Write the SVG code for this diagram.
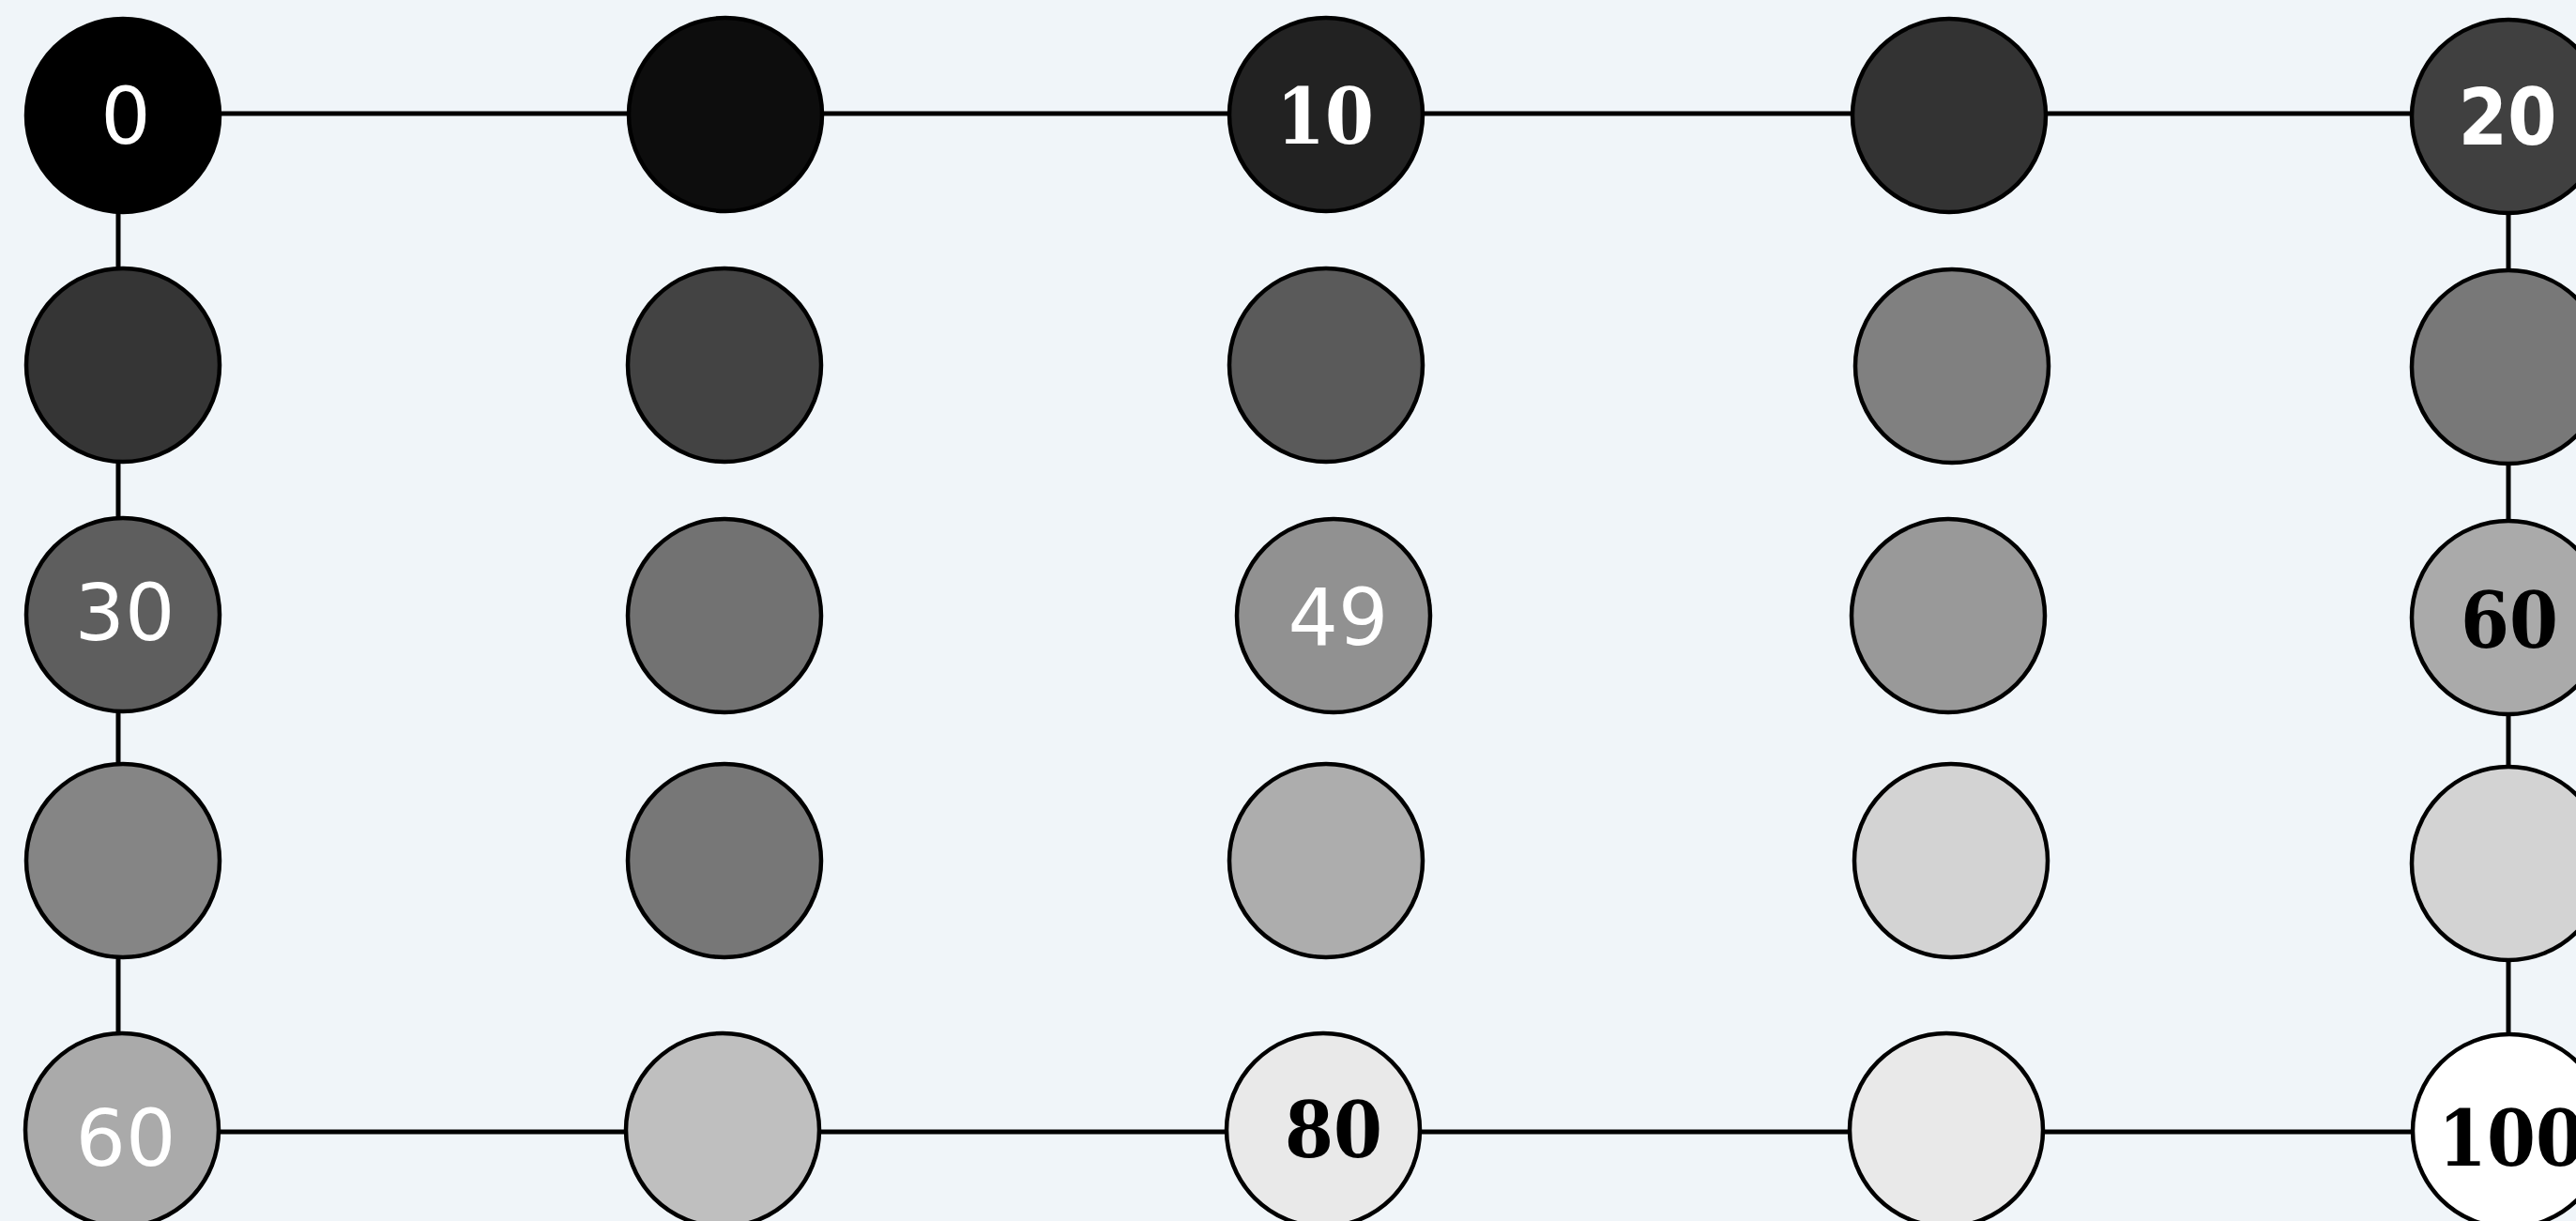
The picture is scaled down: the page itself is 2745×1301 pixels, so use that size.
<svg xmlns="http://www.w3.org/2000/svg" width="2745" height="1301" viewBox="0 0 2745 1301">
<style>
.n{stroke:#000;stroke-width:4.5}
.e{stroke:#000;stroke-width:5;fill:none}
.ls{font-family:"DejaVu Sans",sans-serif;font-size:84px;text-anchor:middle;fill:#fff}
.lb{font-family:"DejaVu Sans Condensed","DejaVu Sans",sans-serif;font-stretch:condensed;font-weight:bold;font-size:84px;text-anchor:middle;fill:#fff}
.lr{font-family:"DejaVu Serif Condensed","DejaVu Serif",serif;font-stretch:condensed;font-weight:bold;font-size:83px;text-anchor:middle;fill:#000}
.lw{fill:#fff}
</style>
<rect width="2745" height="1301" fill="#f0f5f9"/>
<g id="connectors">
<line class="e" x1="131" y1="121" x2="2673" y2="121"/>
<line class="e" x1="130" y1="1206" x2="2674" y2="1206"/>
<line class="e" x1="126" y1="123" x2="126" y2="1204"/>
<line class="e" x1="2673" y1="124" x2="2673" y2="1205"/>
</g>
<g id="n00"><circle class="n" cx="131" cy="123" r="103" fill="#000000"/><text class="ls" x="134" y="153">0</text></g>
<g id="n01"><circle class="n" cx="773" cy="122" r="103" fill="#0d0d0d"/></g>
<g id="n02"><circle class="n" cx="1413" cy="122" r="103" fill="#222222"/><text class="lr lw" x="1412" y="153">10</text></g>
<g id="n03"><circle class="n" cx="2077" cy="123" r="103" fill="#333333"/></g>
<g id="n04"><circle class="n" cx="2673" cy="124" r="103" fill="#404040"/><text class="lb" x="2672" y="154">20</text></g>
<g id="n10"><circle class="n" cx="131" cy="389" r="103" fill="#353535"/></g>
<g id="n11"><circle class="n" cx="772" cy="389" r="103" fill="#434343"/></g>
<g id="n12"><circle class="n" cx="1413" cy="389" r="103" fill="#5a5a5a"/></g>
<g id="n13"><circle class="n" cx="2080" cy="390" r="103" fill="#808080"/></g>
<g id="n14"><circle class="n" cx="2673" cy="391" r="103" fill="#787878"/></g>
<g id="n20"><circle class="n" cx="131" cy="655" r="103" fill="#5e5e5e"/><text class="ls" x="133" y="682">30</text></g>
<g id="n21"><circle class="n" cx="772" cy="656" r="103" fill="#727272"/></g>
<g id="n22"><circle class="n" cx="1421" cy="656" r="103" fill="#919191"/><text class="ls" x="1426" y="687">49</text></g>
<g id="n23"><circle class="n" cx="2076" cy="656" r="103" fill="#999999"/></g>
<g id="n24"><circle class="n" cx="2673" cy="658" r="103" fill="#aaaaaa"/><text class="lr" x="2674" y="690">60</text></g>
<g id="n30"><circle class="n" cx="131" cy="917" r="103" fill="#858585"/></g>
<g id="n31"><circle class="n" cx="772" cy="917" r="103" fill="#777777"/></g>
<g id="n32"><circle class="n" cx="1413" cy="917" r="103" fill="#adadad"/></g>
<g id="n33"><circle class="n" cx="2079" cy="917" r="103" fill="#d3d3d3"/></g>
<g id="n34"><circle class="n" cx="2673" cy="920" r="103" fill="#d3d3d3"/></g>
<g id="n40"><circle class="n" cx="130" cy="1204" r="103" fill="#aaaaaa"/><text class="ls" x="134" y="1242">60</text></g>
<g id="n41"><circle class="n" cx="770" cy="1204" r="103" fill="#bfbfbf"/></g>
<g id="n42"><circle class="n" cx="1410" cy="1204" r="103" fill="#e9e9e9"/><text class="lr" x="1421" y="1233">80</text></g>
<g id="n43"><circle class="n" cx="2074" cy="1204" r="103" fill="#e9e9e9"/></g>
<g id="n44"><circle class="n" cx="2674" cy="1205" r="103" fill="#ffffff"/><text class="lr" x="2676" y="1242">100</text></g>
</svg>
